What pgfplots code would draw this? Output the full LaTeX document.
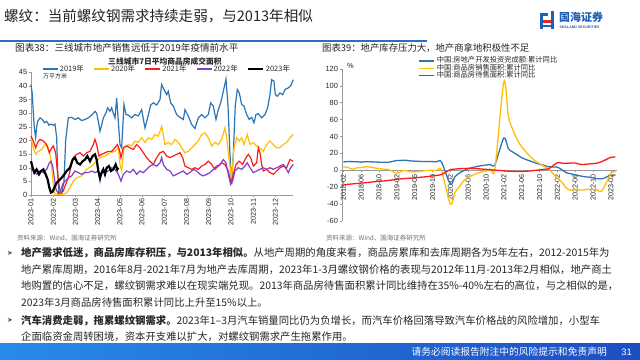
\documentclass[border=0pt]{standalone}
\usepackage{pgfplots}
\pgfplotsset{compat=1.18}
\usepackage{fontspec}
\setmainfont{Noto Sans CJK SC}
\newfontfamily\arial{Liberation Sans}
\newfontfamily\dejavu{DejaVu Sans}
\definecolor{c19}{HTML}{2E75B6}
\definecolor{c20}{HTML}{FFC000}
\definecolor{c21}{HTML}{FF1A1A}
\definecolor{c22}{HTML}{8040C8}
\definecolor{hblue}{HTML}{2B6CC4}
\definecolor{txt}{HTML}{262626}
\definecolor{lblue}{HTML}{1F5FB5}
\definecolor{lred}{HTML}{E0252B}

\begin{document}
\begin{tikzpicture}
\path[fill=white,use as bounding box] (0,0) rectangle (640bp,-360bp);

% header
\node[anchor=west,inner sep=0,text=txt,font=\fontsize{14.6}{17}\selectfont] at (4bp,-16.5bp) {螺纹：当前螺纹钢需求持续走弱，与2013年相似};
\fill[hblue] (0,-39.5bp) rectangle (427bp,-41.5bp);
% logo
\fill[lblue] (540bp,-13bp) rectangle (543bp,-29bp);
\fill[lblue] (540bp,-13bp) rectangle (548bp,-15.5bp);
\fill[lblue] (551bp,-11bp) rectangle (554bp,-29bp);
\fill[lred] (543bp,-20bp) rectangle (551bp,-22.5bp);
\fill[lblue] (543bp,-25bp) rectangle (551bp,-27bp);
\node[anchor=west,inner sep=0,text=lblue,font=\fontsize{11}{12}\selectfont\bfseries] at (559bp,-17bp) {国海证券};
\node[anchor=west,inner sep=0,text=lblue,font=\arial\fontsize{3.6}{4}\selectfont\bfseries] at (559.5bp,-27bp) {SEALAND SECURITIES};

% chart titles
\node[anchor=west,inner sep=0,text=txt,font=\fontsize{9.6}{11}\selectfont] at (15bp,-48bp) {图表38：三线城市地产销售远低于2019年疫情前水平};
\node[anchor=west,inner sep=0,text=txt,font=\fontsize{9.4}{11}\selectfont] at (322bp,-48bp) {图表39：地产库存压力大，地产商拿地积极性不足};
\node[inner sep=0,text=txt,font=\fontsize{7.8}{9}\selectfont\bfseries] at (165bp,-62bp) {三线城市7日平均商品房成交面积};
\node[anchor=west,inner sep=0,text=txt,font=\fontsize{6}{7}\selectfont] at (43bp,-76bp) {万平方米};
\node[anchor=west,inner sep=0,text=txt,font=\arial\fontsize{7.5}{8}\selectfont] at (347bp,-66bp) {\%};

% left chart
\begin{axis}[
  at={(31bp,-195bp)}, anchor=south west, scale only axis,
  width=262.3bp, height=122.7bp,
  xmin=93, xmax=880, ymin=0, ymax=45,
  axis x line*=bottom, axis y line*=left,
  axis line style={draw=gray!80,-},
  tick style={gray!80}, tick align=outside, major tick length=2bp,
  xtick={93,160,226,293,360,426,493,560,626,693,760,826},
  xticklabels={2023-01,2023-02,2023-03,2023-04,2023-05,2023-06,2023-07,2023-08,2023-09,2023-10,2023-11,2023-12},
  ytick={0,5,...,45},
  /pgf/number format/assume math mode=true,
  x tick label style={rotate=90,anchor=east,font=\arial\fontsize{7.2}{8}\selectfont,text=txt,inner sep=1.5bp},
  y tick label style={font=\arial\fontsize{7.5}{8}\selectfont,text=txt,inner sep=1.5bp},
  legend columns=5,
  legend style={at={(0,1)},anchor=west,xshift=11bp,yshift=3.3bp,draw=none,fill=none,inner sep=0pt,
    font=\fontsize{7.5}{8}\selectfont,text=txt,
    nodes={inner sep=0pt},
    /tikz/every odd column/.append style={column sep=1.5bp},
    /tikz/every even column/.append style={column sep=9.5bp}},
  legend image code/.code={\draw[#1] (0bp,0bp) -- (15bp,0bp);},
  clip=false,
]
\addplot[c19,line width=1.2bp] coordinates {(93,40.5)(97,37)(100,30)(103,24.6)(107,21)(110,25)(113,27)(120,28.3)(127,27.7)(133,26.5)(140,27)(147,25.6)(153,26)(160,25.6)(165,26)(170,21)(173,8.8)(177,0.2)(185,0.5)(192,5)(197,20)(205,28.3)(215,28.5)(225,27.7)(235,28.3)(245,27.3)(255,27.7)(265,28.3)(275,29.3)(285,30.7)(290,30)(295,27)(300,23.4)(305,25.6)(310,28.3)(318,30.1)(323,32)(330,30.7)(335,32)(340,30)(345,28.3)(350,35.6)(355,27)(360,18.5)(365,17.3)(372,33.2)(378,29.5)(385,29.3)(395,28.3)(405,29.5)(415,29)(425,31.3)(435,24.6)(443,28.3)(452,33)(460,33.8)(470,33)(480,35)(485,40.5)(492,38.7)(500,36.8)(505,38)(512,33.8)(520,32.6)(530,29.5)(540,28.5)(550,27.7)(555,31.3)(565,28.9)(575,25.9)(585,24.4)(595,28.3)(605,29.5)(615,28.3)(625,29.5)(632,33.8)(640,32.6)(648,27.7)(655,31.3)(662,33.8)(670,38)(678,42.5)(684,33)(690,15)(695,4)(700,15)(706,33)(712,38.7)(718,37.4)(725,33.2)(732,32.6)(740,29.5)(748,27.7)(755,28.5)(762,26.5)(768,29.5)(775,29.8)(785,28.3)(795,29.5)(803,32)(810,36.8)(815,42.3)(822,41.7)(826,36.8)(832,36.2)(840,37.4)(848,36.8)(855,38.7)(865,39.3)(872,40)(880,42.3)};
\addlegendentry{2019年}
\addplot[c20,line width=1.2bp] coordinates {(93,21)(100,17.3)(107,14.9)(115,16)(125,16.7)(135,18.5)(145,17.3)(150,14.9)(155,10)(160,3.9)(165,0.2)(175,0.3)(185,0.2)(193,0.5)(200,0.8)(210,2.7)(220,5.1)(230,6.3)(245,7)(260,9.4)(275,10.6)(290,12.4)(300,13.7)(315,14.3)(330,15.5)(345,16)(355,17.3)(360,11.2)(365,8.8)(372,17.3)(385,18.5)(395,18)(405,19.8)(415,19.3)(425,21)(435,19.3)(445,21)(455,20.4)(465,22.2)(475,21.6)(485,25.2)(490,22.2)(495,18.5)(505,19.3)(515,18.5)(525,20.4)(535,19.3)(545,17.3)(555,15.5)(565,16)(575,17.3)(585,18.5)(595,19.8)(605,22.2)(615,22.8)(625,21)(635,18)(645,19.3)(655,18.5)(665,20.4)(675,24.6)(680,21)(688,12.4)(695,6.3)(702,17.3)(710,21)(718,19.8)(725,21)(732,18.5)(742,22.2)(750,18.5)(760,19.3)(770,18)(780,17.3)(790,16)(800,18.5)(810,19.8)(820,18.5)(830,17.3)(840,17.3)(850,18.5)(860,19.3)(870,21)(880,22.2)};
\addlegendentry{2020年}
\addplot[c21,line width=1.2bp] coordinates {(93,21.6)(100,19.8)(107,17.3)(113,19.3)(120,20.4)(130,19.8)(140,18.5)(148,15.5)(155,17.3)(160,18)(167,15.5)(172,8.8)(178,2.7)(183,0.8)(190,1.5)(197,3.9)(205,6.3)(212,10)(220,13.7)(230,14.9)(240,15.5)(250,14.3)(260,15.5)(270,16)(280,18.5)(285,20.4)(290,18.5)(297,14.3)(305,14.9)(315,15.5)(325,16)(335,16)(345,17.3)(352,18.5)(358,16.7)(363,13.7)(370,17.3)(380,18)(390,17.3)(400,16.7)(410,18.5)(420,17.3)(430,15.5)(440,13.7)(450,12.4)(460,11.2)(470,13.7)(480,15.5)(490,16)(500,14.3)(510,13.7)(520,14.3)(530,14.9)(540,15.5)(548,13.7)(555,10.6)(565,10)(575,9.4)(585,10)(595,9.4)(605,10.6)(615,11.2)(625,12.4)(635,11.2)(645,9.4)(655,10.6)(665,11.8)(675,11.2)(685,8.8)(693,4.5)(700,7.6)(708,11.2)(718,12.4)(728,11.2)(738,13.7)(745,14.9)(752,13.7)(760,10.6)(770,11.8)(775,17.3)(780,15.5)(785,11.2)(790,8.8)(800,9.4)(810,8.2)(820,7.6)(830,8.8)(840,10)(850,10.6)(860,10)(870,13)(880,12.4)};
\addlegendentry{2021年}
\addplot[c22,line width=1.2bp] coordinates {(93,9.4)(100,8.8)(110,7.6)(120,8.8)(130,8.2)(140,9.4)(148,11.8)(153,12.4)(158,10.6)(163,6.3)(168,2.1)(175,0.5)(182,1.5)(188,3.9)(195,5.1)(205,6.3)(215,7)(225,8.8)(235,8.2)(245,7.6)(255,8.2)(265,8.2)(275,8.8)(285,8.2)(295,8.8)(300,5.1)(305,8.8)(315,8.2)(325,8.8)(335,10)(345,9.4)(355,7.6)(363,5.1)(370,7.6)(380,8.8)(390,8.2)(400,9.4)(410,7.6)(420,8.8)(430,8.2)(440,9.4)(450,10.6)(460,11.2)(470,10.6)(480,11.8)(485,13.7)(490,11.2)(500,9.4)(510,8.8)(520,7)(530,7.6)(540,8.2)(550,8.8)(560,7.6)(570,8.2)(580,9.4)(590,8.8)(600,7.6)(610,7)(620,7.6)(630,8.2)(640,9.4)(650,10.6)(660,11.2)(670,13)(678,11.8)(685,7.6)(692,3.9)(698,5.1)(705,8.8)(715,10)(725,9.4)(735,10.6)(742,11.8)(750,10)(760,8.2)(770,8.8)(780,9.4)(790,10)(800,9.4)(810,10)(820,9.4)(830,10)(840,10.6)(850,11.2)(860,9.4)(865,8.2)(872,10)(880,11.2)};
\addlegendentry{2022年}
\addplot[black,line width=2.2bp] coordinates {(93,12.4)(98,10)(103,8.2)(110,9.4)(117,7.6)(123,8.8)(130,9.4)(137,7.6)(143,5.7)(148,2.7)(153,0.9)(158,1.2)(163,2.7)(170,4.5)(180,5.7)(190,7)(200,8.8)(210,10)(218,13)(225,13.7)(232,11.8)(240,11.2)(248,12.4)(255,13)(262,14.3)(270,12.4)(278,14.3)(285,14.9)(290,13)(295,8.8)(300,6.3)(305,8.2)(310,9.4)(315,7.6)(320,10)(327,10.6)(333,8.8)(340,9.4)(347,11.2)(352,9.4)(355,10)};
\addlegendentry{2023年}
\end{axis}

% right chart
\begin{axis}[
  at={(341.7bp,-221.2bp)}, anchor=south west, scale only axis,
  width=275bp, height=152.5bp,
  xmin=-0.37, xmax=61.3, ymin=-60, ymax=120,
  axis x line=middle, axis y line=left,
  hide obscured x ticks=false, hide obscured y ticks=false,
  axis line style={draw=gray!80,-},
  tick style={gray!80}, tick align=outside, major tick length=2bp,
  xtick={0,4,...,60},
  xticklabels={2018-02,2018-06,2018-10,2019-02,2019-06,2019-10,2020-02,2020-06,2020-10,2021-02,2021-06,2021-10,2022-02,2022-06,2022-10,2023-02},
  ytick={-60,-40,...,120},
  /pgf/number format/assume math mode=true,
  x tick label style={rotate=90,anchor=east,font=\arial\fontsize{7.2}{8}\selectfont,text=txt,inner sep=1.5bp},
  y tick label style={font=\arial\fontsize{7.5}{8}\selectfont,text=txt,inner sep=1.5bp},
  legend style={at={(0.277,1.075)},anchor=north west,draw=none,fill=none,inner sep=0pt,
    font=\fontsize{7.3}{8}\selectfont,text=txt,row sep=0.4bp,
    nodes={inner sep=0pt,text height=5.4bp,text depth=1.6bp},
    /tikz/every odd column/.append style={column sep=2.5bp}},
  legend image code/.code={\draw[#1] (0bp,0bp) -- (15bp,0bp);},
  legend cell align=left,
  clip=false,
]
\addplot[c19,line width=1.3bp,smooth] coordinates {(0,9.9)(1,10.4)(2,10.3)(3,10.2)(4,9.7)(5,10.2)(6,10.1)(7,9.9)(8,9.7)(9,9.7)(10,9.5)(12,11.6)(13,11.8)(14,11.9)(15,11.2)(16,10.9)(17,10.6)(18,10.5)(19,10.5)(20,10.3)(21,10.2)(22,9.9)(24,-16.3)(25,-7.7)(26,-3.3)(27,-0.3)(28,1.9)(29,3.4)(30,4.6)(31,5.6)(32,6.3)(33,6.8)(34,7.0)(36,38.3)(37,25.6)(38,21.6)(39,18.3)(40,15.0)(41,12.7)(42,10.9)(43,8.9)(44,7.2)(45,6.0)(46,4.4)(48,3.7)(49,0.7)(50,-2.7)(51,-4.0)(52,-5.4)(53,-6.4)(54,-7.4)(55,-8.0)(56,-8.8)(57,-9.8)(58,-10.0)(60,-5.7)(61,-5.8)};
\addlegendentry{中国:房地产开发投资完成额:累计同比}
\addplot[c20,line width=1.3bp,smooth] coordinates {(0,4.1)(1,3.6)(2,1.3)(3,2.9)(4,3.3)(5,4.2)(6,4.0)(7,2.9)(8,2.2)(9,1.4)(10,1.3)(12,-3.6)(13,-0.9)(14,-0.3)(15,-1.6)(16,-1.8)(17,-1.3)(18,-0.6)(19,-0.1)(20,0.1)(21,0.2)(22,-0.1)(24,-39.9)(25,-26.3)(26,-19.3)(27,-12.3)(28,-8.4)(29,-5.8)(30,-3.3)(31,-1.8)(32,0.0)(33,1.3)(34,2.6)(36,104.9)(37,63.8)(38,48.1)(39,36.4)(40,27.7)(41,21.5)(42,15.9)(43,11.3)(44,7.8)(45,4.8)(46,1.9)(48,-9.6)(49,-13.8)(50,-20.9)(51,-23.6)(52,-22.2)(53,-23.1)(54,-23.0)(55,-22.2)(56,-22.3)(57,-23.3)(58,-24.3)(60,-3.6)(61,-1.8)};
\addlegendentry{中国:商品房销售面积:累计同比}
\addplot[c21,line width=1.3bp,smooth] coordinates {(0,-17)(1,-16.5)(2,-16)(3,-15.5)(4,-15)(5,-14.6)(6,-14)(7,-13.4)(8,-12.8)(9,-12.5)(10,-12)(12,-10.5)(13,-10)(14,-9.6)(15,-9.2)(16,-8.8)(17,-8.3)(18,-7.8)(19,-7.2)(20,-6.5)(21,-5.8)(22,-4.9)(24,1)(25,1.5)(26,2)(27,2.2)(28,2.4)(29,2.3)(30,2)(31,1.6)(32,1.2)(33,0.8)(34,0.3)(36,-0.5)(37,-1)(38,-1.2)(39,-1.4)(40,-1.3)(41,-1)(42,-0.6)(43,0)(44,0.6)(45,1.2)(46,1.8)(48,9)(49,8.5)(50,8.3)(51,8.6)(52,8.8)(53,7.2)(54,7)(55,7.5)(56,8)(57,8.7)(58,10.5)(60,15.4)(61,15.7)};
\addlegendentry{中国:商品房待售面积:累计同比}
\end{axis}

% sources
\node[anchor=west,inner sep=0,text=gray!90!black,font=\fontsize{6.5}{7}\selectfont] at (17bp,-238bp) {资料来源：Wind、国海证券研究所};
\node[anchor=west,inner sep=0,text=gray!90!black,font=\fontsize{6.5}{7}\selectfont] at (326bp,-238bp) {资料来源：Wind、国海证券研究所};

% body text
\begin{scope}[every node/.style={anchor=west,inner sep=0,text=txt,font=\fontsize{10.4}{12}\selectfont}]
\node at (21bp,-253bp) {\textbf{地产需求低迷，商品房库存积压，与2013年相似。}从地产周期的角度来看，商品房累库和去库周期各为5年左右，2012-2015年为};
\node at (21bp,-269.5bp) {地产累库周期，2016年8月-2021年7月为地产去库周期，2023年1-3月螺纹钢价格的表现与2012年11月-2013年2月相似，地产商土};
\node at (21bp,-286bp) {地购置的信心不足，螺纹钢需求难以在现实端兑现。2013年商品房待售面积累计同比维持在35\%-40\%左右的高位，与之相似的是，};
\node at (21bp,-303bp) {2023年3月商品房待售面积累计同比上升至15\%以上。};
\node at (21bp,-320.5bp) {\textbf{汽车消费走弱，拖累螺纹钢需求。}2023年1–3月汽车销量同比仍为负增长，而汽车价格回落导致汽车价格战的风险增加，小型车};
\node at (21bp,-337bp) {企面临资金周转困境，资本开支难以扩大，对螺纹钢需求产生拖累作用。};
\end{scope}
\node[anchor=west,inner sep=0,text=gray!70!black,font=\dejavu\fontsize{7}{8}\selectfont] at (7bp,-253bp) {➤};
\node[anchor=west,inner sep=0,text=gray!70!black,font=\dejavu\fontsize{7}{8}\selectfont] at (7bp,-320.5bp) {➤};

% footer
\shade[left color={rgb,255:red,40;green,140;blue,232}, right color={rgb,255:red,28;green,78;blue,196}] (0,-343bp) rectangle (640bp,-360bp);
\node[anchor=east,inner sep=0,text=white,font=\fontsize{9.8}{11}\selectfont] at (607bp,-352bp) {请务必阅读报告附注中的风险提示和免责声明};
\node[anchor=east,inner sep=0,text=white,font=\arial\fontsize{9.5}{11}\selectfont] at (632bp,-352bp) {31};
\end{tikzpicture}
\end{document}
